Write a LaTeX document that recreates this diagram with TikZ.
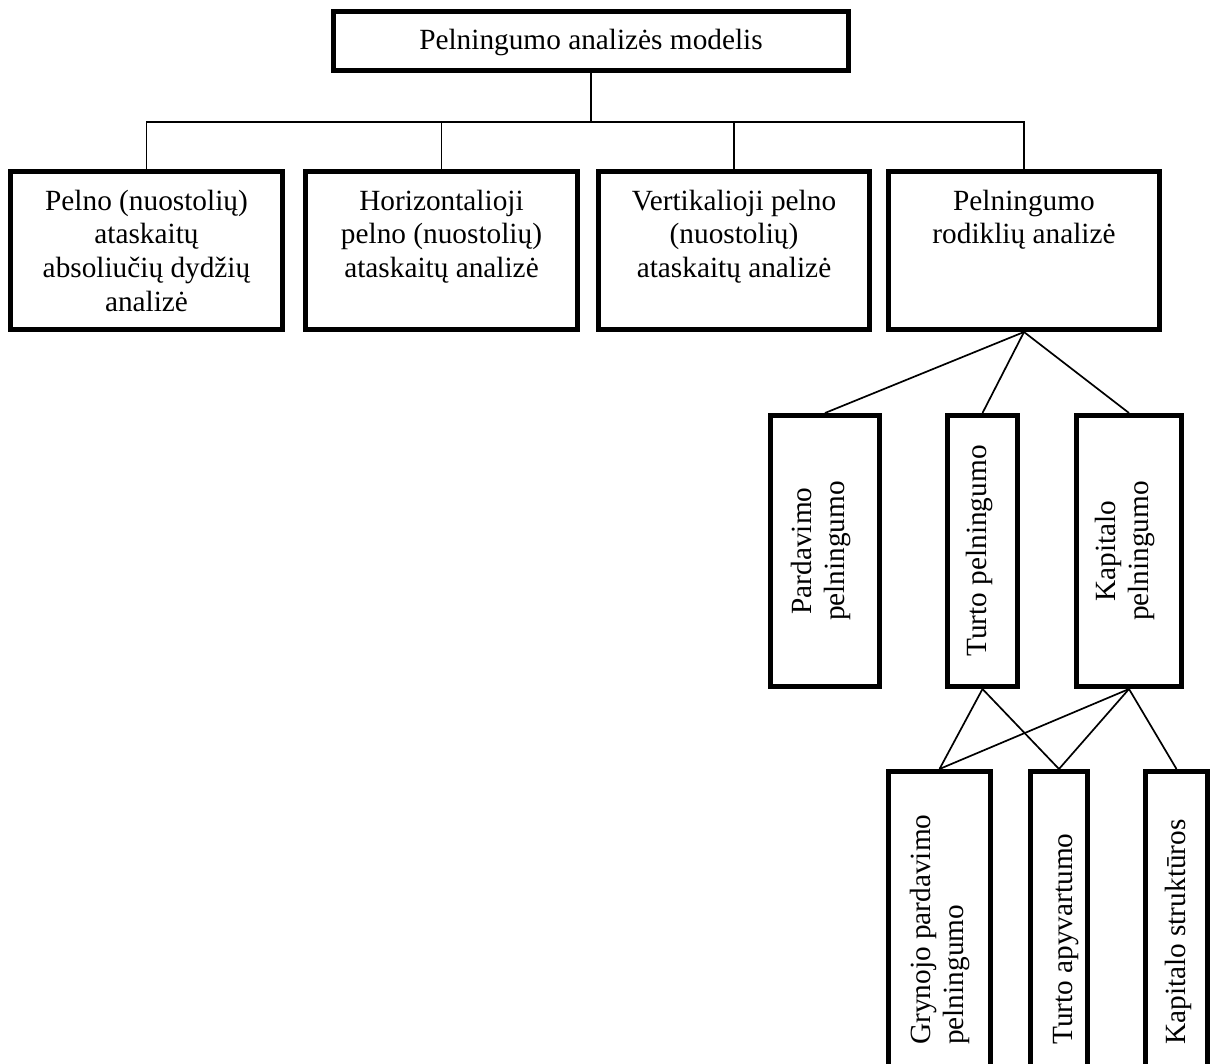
\documentclass[tikz,border=0pt]{standalone}
\usepackage{fontspec}
\setmainfont{Liberation Serif}
\begin{document}
\begin{tikzpicture}[x=1pt,y=-1pt,
  box/.style={draw=black, line width=5pt, inner sep=0pt},
  link/.style={draw=black, line width=1.7pt},
  txt/.style={font=\fontsize{29.3}{33.7}\selectfont, inner sep=0pt, align=center},
  vtxt/.style={txt, rotate=90}]
\path[use as bounding box, clip] (0,0) rectangle (1216,1064);
\fill[white] (0,0) rectangle (1216,1064);

% top
\node[box, minimum width=515pt, minimum height=59pt, text height=22pt, text depth=4pt,
      font=\fontsize{29.3}{33.7}\selectfont] (top) at (591,41) {Pelningumo analizės modelis};

% row boxes
\node[box, minimum width=272pt, minimum height=158pt] (r1) at (146.5,250.5) {};
\node[box, minimum width=272pt, minimum height=158pt] (r2) at (441.5,250.5) {};
\node[box, minimum width=271pt, minimum height=158pt] (r3) at (734,250.5) {};
\node[box, minimum width=271pt, minimum height=158pt] (r4) at (1024,250.5) {};
\node[txt, anchor=north] (t1) at (146.5,186.4) {\strut Pelno (nuostolių)\\ataskaitų\\absoliučių dydžių\\analizė};
\node[txt, anchor=north] (t2) at (441.5,186.4) {\strut Horizontalioji\\pelno (nuostolių)\\ataskaitų analizė};
\node[txt, anchor=north] (t3) at (734,186.4) {\strut Vertikalioji pelno\\(nuostolių)\\ataskaitų analizė};
\node[txt, anchor=north] (t4) at (1024,186.4) {\strut Pelningumo\\rodiklių analizė};

% middle boxes
\node[box, minimum width=109pt, minimum height=271pt] (m1) at (825,551) {};
\node[box, minimum width=70pt, minimum height=271pt] (m2) at (982.5,551) {};
\node[box, minimum width=105pt, minimum height=271pt] (m3) at (1129,551) {};
\node[vtxt, anchor=north] (tm1) at (787.4,551) {\strut Pardavimo\\pelningumo};
\node[vtxt, anchor=north] (tm2) at (962.4,551) {\strut Turto pelningumo};
\node[vtxt, anchor=north] (tm3) at (1091.4,551) {\strut Kapitalo\\pelningumo};

% bottom boxes
\node[box, minimum width=102pt, minimum height=326pt] (b1) at (939.5,934.5) {};
\node[box, minimum width=57pt, minimum height=326pt] (b2) at (1059,934.5) {};
\node[box, minimum width=62pt, minimum height=326pt] (b3) at (1176.5,934.5) {};
\node[vtxt, align=left, anchor=north west] (tb1) at (906.4,1045) {\strut Grynojo pardavimo\\pelningumo};
\node[vtxt, align=left, anchor=north west] (tb2) at (1048.4,1045) {\strut Turto apyvartumo};
\node[vtxt, align=left, anchor=north west] (tb3) at (1161.4,1045) {\strut Kapitalo struktūros};

% connectors
\coordinate (hub) at (591,122);
\draw[link] (top.south) -- (hub);
\draw[link] (r1.north) |- (hub) -| (r4.north);
\draw[link] (r2.north) -- (r2.north |- hub);
\draw[link] (r3.north) -- (r3.north |- hub);

\draw[link] (r4.south) -- (m1.north);
\draw[link] (r4.south) -- (m2.north);
\draw[link] (r4.south) -- (m3.north);

\draw[link] (m2.south) -- (b1.north);
\draw[link] (m2.south) -- (b2.north);
\draw[link] (m3.south) -- (b1.north);
\draw[link] (m3.south) -- (b2.north);
\draw[link] (m3.south) -- (b3.north);
\end{tikzpicture}
\end{document}
